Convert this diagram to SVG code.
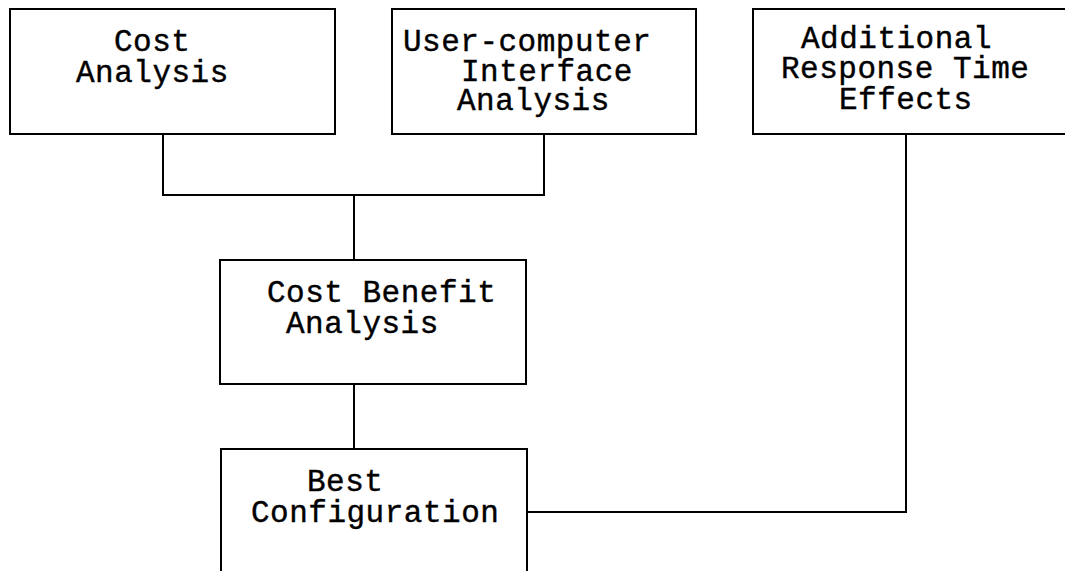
<svg xmlns="http://www.w3.org/2000/svg" width="1065" height="571" viewBox="0 0 1065 571">
<style>
.box{fill:#fff;stroke:#000;stroke-width:2}
.ln{fill:none;stroke:#000;stroke-width:2}
text{font-family:"Liberation Mono","DejaVu Sans Mono",monospace;font-size:31px;letter-spacing:0.5px;fill:#000;stroke:#000;stroke-width:0.4}
</style>
<rect width="1065" height="571" fill="#fff"/>
<g id="connectors">
<polyline class="ln" points="163,134 163,195 544,195 544,134"/>
<line class="ln" x1="354" y1="195" x2="354" y2="260"/>
<line class="ln" x1="354" y1="384" x2="354" y2="449"/>
<polyline class="ln" points="527,512 906,512 906,134"/>
</g>
<g id="cost-analysis">
<rect class="box" x="10" y="9" width="325" height="125"/>
<text x="114" y="51">Cost</text>
<text x="76" y="82">Analysis</text>
</g>
<g id="uci-analysis">
<rect class="box" x="392" y="9" width="304" height="125"/>
<text x="403" y="51">User-computer</text>
<text x="461" y="81">Interface</text>
<text x="457" y="110">Analysis</text>
</g>
<g id="response-time">
<rect class="box" x="753" y="9" width="330" height="125"/>
<text x="801" y="48">Additional</text>
<text x="781" y="78">Response Time</text>
<text x="839" y="109">Effects</text>
</g>
<g id="cost-benefit">
<rect class="box" x="220" y="260" width="306" height="124"/>
<text x="267" y="302">Cost Benefit</text>
<text x="286" y="333">Analysis</text>
</g>
<g id="best-config">
<rect class="box" x="221" y="449" width="306" height="140"/>
<text x="307" y="491">Best</text>
<text x="251" y="522">Configuration</text>
</g>
</svg>
